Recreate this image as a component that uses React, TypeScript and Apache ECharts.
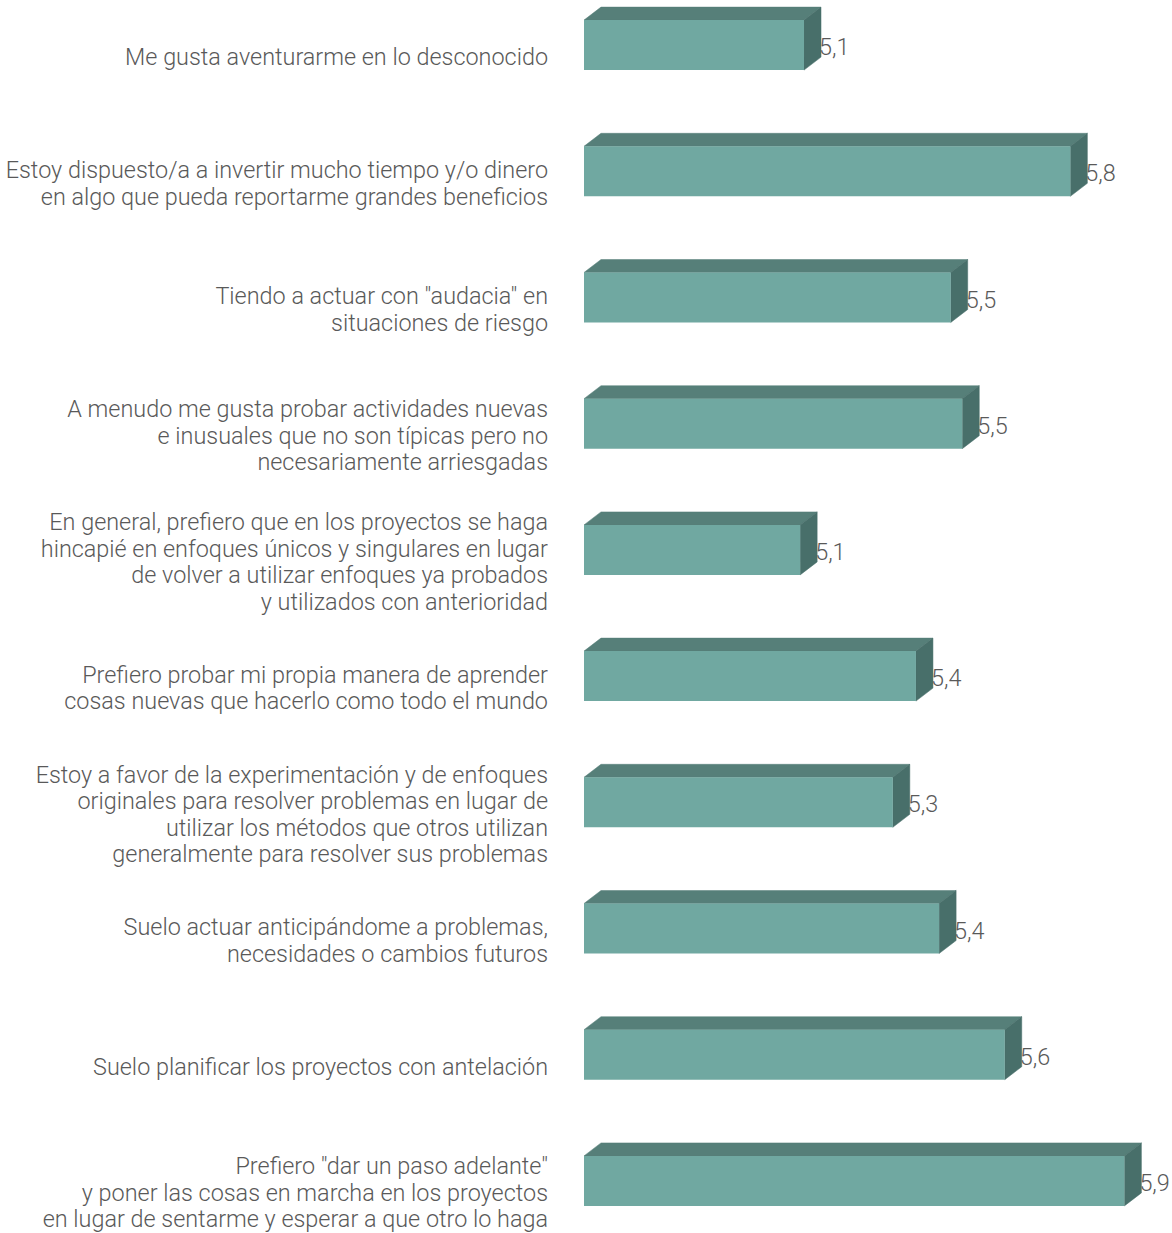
import React, { useEffect, useRef } from "react";
import * as echarts from "echarts";

const categories: string[] = [
  "Me gusta aventurarme en lo desconocido",
  "Estoy dispuesto/a a invertir mucho tiempo y/o dinero\nen algo que pueda reportarme grandes beneficios",
  "Tiendo a actuar con \"audacia\" en\nsituaciones de riesgo",
  "A menudo me gusta probar actividades nuevas\ne inusuales que no son típicas pero no\nnecesariamente arriesgadas",
  "En general, prefiero que en los proyectos se haga\nhincapié en enfoques únicos y singulares en lugar\nde volver a utilizar enfoques ya probados\ny utilizados con anterioridad",
  "Prefiero probar mi propia manera de aprender\ncosas nuevas que hacerlo como todo el mundo",
  "Estoy a favor de la experimentación y de enfoques\noriginales para resolver problemas en lugar de\nutilizar los métodos que otros utilizan\ngeneralmente para resolver sus problemas",
  "Suelo actuar anticipándome a problemas,\nnecesidades o cambios futuros",
  "Suelo planificar los proyectos con antelación",
  "Prefiero \"dar un paso adelante\"\ny poner las cosas en marcha en los proyectos\nen lugar de sentarme y esperar a que otro lo haga",
];

const values: number[] = [5.07, 5.76, 5.45, 5.48, 5.06, 5.36, 5.3, 5.42, 5.59, 5.9];

const AXIS_MIN = 4.5;
const AXIS_MAX = 6.0;

const FRONT = "#70A8A1";
const TOP = "#567F79";
const SIDE = "#486F6A";
const TEXT = "#595959";
const FONT = "Roboto";

export default function App() {
  const ref = useRef<HTMLDivElement>(null);

  useEffect(() => {
    if (!ref.current) return;
    const chart = echarts.init(ref.current, null, { renderer: "svg" });
    const DX = 17;
    const DY = 13;
    const H = 50;
    const OFF = 12;

    const option: any = {
      animation: false,
      backgroundColor: "#ffffff",
      grid: { left: 584, top: 0, width: 579, height: 1262, containLabel: false },
      xAxis: {
        type: "value",
        min: AXIS_MIN,
        max: AXIS_MAX,
        show: false,
      },
      yAxis: {
        type: "category",
        data: categories,
        inverse: true,
        axisLine: { show: false },
        axisTick: { show: false },
        splitLine: { show: false },
        axisLabel: {
          margin: 36,
          color: TEXT,
          fontFamily: FONT,
          fontWeight: 300,
          fontSize: 23.4,
          lineHeight: 26.5,
          align: "right",
        },
      },
      series: [
        {
          type: "custom",
          data: values.map((v, i) => [v, i]),
          encode: { x: 0, y: 1 },
          renderItem: (params: any, api: any) => {
            const v = api.value(0);
            const idx = api.value(1);
            const end = api.coord([v, idx]);
            const start = api.coord([AXIS_MIN, idx]);
            const x0 = start[0];
            const x1 = end[0];
            const fc = end[1] - OFF;
            const ft = fc - H / 2;
            const fb = fc + H / 2;
            const label = v.toFixed(1).replace(".", ",");
            return {
              type: "group",
              children: [
                {
                  type: "polygon",
                  shape: { points: [[x0, ft], [x0 + DX, ft - DY], [x1 + DX, ft - DY], [x1, ft]] },
                  style: { fill: TOP, stroke: TOP, lineWidth: 0.5 },
                },
                {
                  type: "polygon",
                  shape: { points: [[x1, ft], [x1 + DX, ft - DY], [x1 + DX, fb - DY], [x1, fb]] },
                  style: { fill: SIDE, stroke: SIDE, lineWidth: 0.5 },
                },
                {
                  type: "rect",
                  shape: { x: x0, y: ft, width: x1 - x0, height: H },
                  style: { fill: FRONT },
                },
                {
                  type: "text",
                  x: x1 + 15,
                  y: fc + 2,
                  style: {
                    text: label,
                    fill: TEXT,
                    font: `300 23.4px ${FONT}`,
                    align: "left",
                    verticalAlign: "middle",
                  },
                },
              ],
            };
          },
        },
      ],
    };
    chart.setOption(option);
    return () => chart.dispose();
  }, []);

  return (
    <div
      style={{
        position: "fixed",
        left: 0,
        top: 0,
        width: 1172,
        height: 1233,
        overflow: "hidden",
        background: "#ffffff",
      }}
    >
      <div
        ref={ref}
        style={{ position: "absolute", left: 0, top: -6.4, width: 1172, height: 1262 }}
      />
    </div>
  );
}
